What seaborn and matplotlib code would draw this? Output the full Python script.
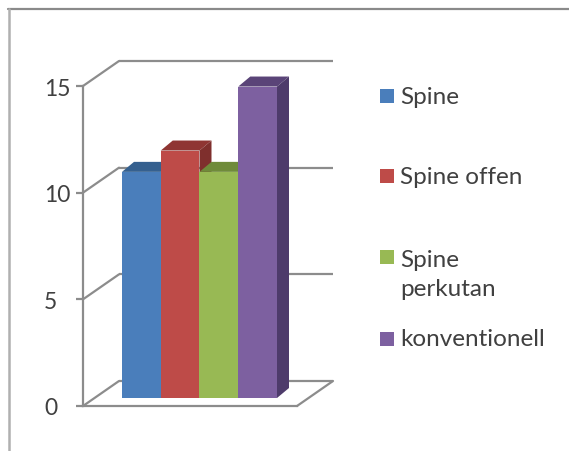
import matplotlib
matplotlib.use("Agg")
import matplotlib.pyplot as plt
import seaborn as sns
from matplotlib.lines import Line2D
from matplotlib.patches import Polygon, Rectangle
from matplotlib.transforms import Affine2D, IdentityTransform

# Chart data
categories = ["Spine", "Spine offen", "Spine perkutan", "konventionell"]
values = [10.6, 11.6, 10.6, 14.6]
y_ticks = [0, 5, 10, 15]
legend_labels = ["Spine", "Spine offen", "Spine\nperkutan", "konventionell"]

# Face colours of each column: front, top, side
front_colors = ["#4a7ebb", "#be4b48", "#98b954", "#7d60a0"]
top_colors = ["#35608f", "#8f3533", "#6f8b3a", "#5a4478"]
side_colors = ["#2c5078", "#7f2f2d", "#5f7732", "#4e3b6b"]
line_color = "#8c8c8c"
text_color = "#404040"

W, H = 569, 452
sns.set_style("white")
plt.rcParams["font.family"] = ["Lato", "DejaVu Sans"]

fig = plt.figure(figsize=(W / 100, H / 100), dpi=100, facecolor="white")
ax = fig.add_axes([83 / W, (H - 407) / H, (297 - 83) / W, 320 / H])


def shifted(dx, dy):
    """Data transform moved by a pixel offset, used for the 3-D depth."""
    return ax.transData + Affine2D().translate(dx, dy)


sns.barplot(x=categories, y=values, hue=categories, palette=front_colors,
            width=1.0, dodge=False, legend=False, saturation=1, ax=ax,
            linewidth=0, zorder=5)
ax.set_xlim(-1.506, 4.016)
ax.set_ylim(0, 15)
ax.set_xticks([])
ax.set_xlabel("")
ax.set_ylabel("")
ax.patch.set_alpha(0)

# Axis styling
for name in ("top", "right"):
    ax.spines[name].set_visible(False)
for name in ("left", "bottom"):
    ax.spines[name].set_color(line_color)
    ax.spines[name].set_linewidth(1.6)
ax.set_yticks(y_ticks)
ax.set_yticklabels([str(t) for t in y_ticks], ha="left", fontsize=16.5,
                   color=text_color)
ax.tick_params(axis="y", left=True, length=5, width=1.6, color=line_color, pad=23)

# Back wall: gridlines pushed into depth, joined to the axis by diagonals
wall_dx, wall_dy = 36, 25
x0, x1 = ax.get_xlim()
for t in y_ticks:
    ax.plot([x0, x1], [t, t], color=line_color, lw=1.6, clip_on=False,
            transform=shifted(wall_dx, wall_dy), zorder=1, solid_capstyle="butt")
    a = ax.transData.transform((x0, t))
    ax.add_line(Line2D([a[0], a[0] + wall_dx], [a[1], a[1] + wall_dy],
                       color=line_color, lw=1.6, transform=IdentityTransform(),
                       clip_on=False, zorder=1))
# Right edge of the floor
a = ax.transData.transform((x1, 0))
ax.add_line(Line2D([a[0], a[0] + wall_dx], [a[1], a[1] + wall_dy],
                   color=line_color, lw=1.6, transform=IdentityTransform(),
                   clip_on=False, zorder=1))

# Columns stand slightly forward of the back wall and get a top and side face
lift, depth_x, depth_y = 8, 12, 10
base = shifted(0, lift)
for i, bar in enumerate(ax.patches):
    bar.set_transform(base)
    bar.set_clip_on(False)
    bar.set_zorder(5 + i * 2 + 1)
    (xa, ya), (xb, yb) = base.transform(
        [(bar.get_x(), 0), (bar.get_x() + bar.get_width(), bar.get_height())])
    top = [(xa, yb), (xb, yb), (xb + depth_x, yb + depth_y), (xa + depth_x, yb + depth_y)]
    side = [(xb, ya), (xb + depth_x, ya + depth_y), (xb + depth_x, yb + depth_y), (xb, yb)]
    for pts, col in ((top, top_colors[i]), (side, side_colors[i])):
        ax.add_patch(Polygon(pts, closed=True, facecolor=col, edgecolor="none",
                             transform=IdentityTransform(), clip_on=False,
                             zorder=5 + i * 2))

# Legend
legend_y = [97, 177, 258, 340]
text_y = [98, 178, 275, 340]
for label, col, sy, ty in zip(legend_labels, front_colors, legend_y, text_y):
    fig.add_artist(Rectangle((380 / W, (H - sy - 7) / H), 14 / W, 14 / H,
                             transform=fig.transFigure, facecolor=col, edgecolor="none"))
    fig.text(400 / W, (H - ty) / H, label, ha="left", va="center", fontsize=17.5,
             color=text_color, linespacing=1.5)

# Outer frame of the chart area
fig.add_artist(Line2D([8 / W, 1], [(H - 10) / H] * 2, color="#8a8a8a", lw=1.6,
                      transform=fig.transFigure))
fig.add_artist(Line2D([9 / W, 9 / W], [0, (H - 10) / H], color="#b0b0b0", lw=1.8,
                      transform=fig.transFigure))

fig.savefig("out.png", dpi=100, facecolor="white")
